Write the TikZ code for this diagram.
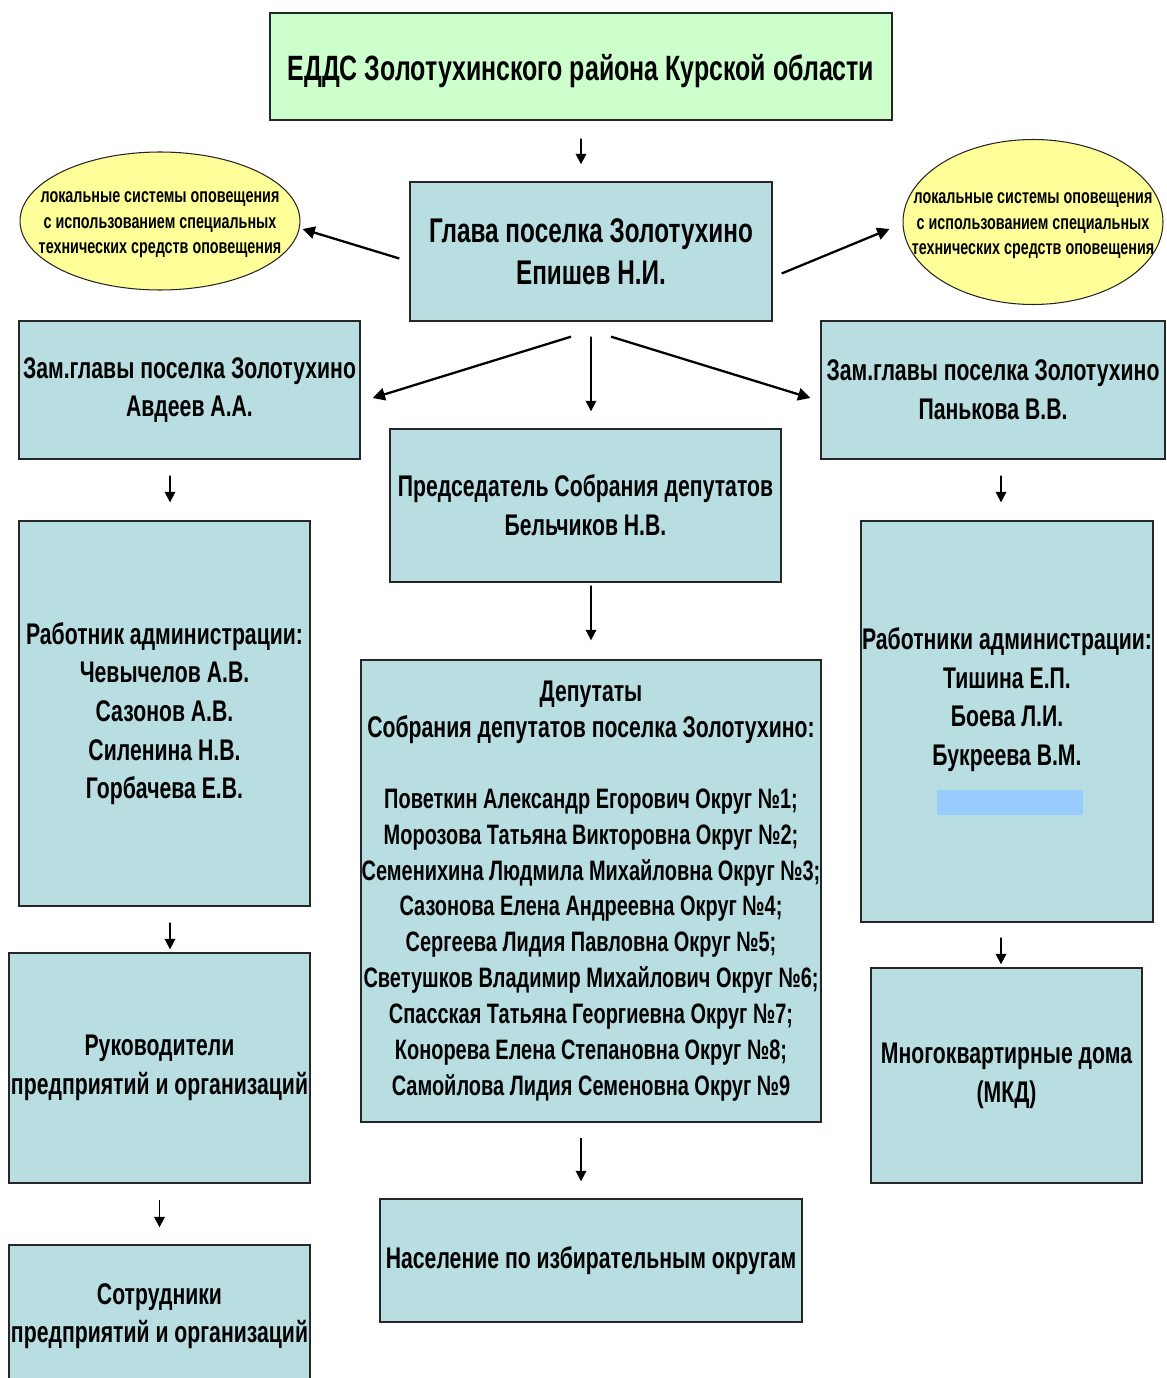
\documentclass[tikz,border=0pt]{standalone}
\usepackage{fontspec}
\setmainfont[FakeStretch=0.71]{Liberation Sans}
\usepackage{xcolor}
\usetikzlibrary{shapes.geometric,arrows.meta}

\definecolor{boxcol}{RGB}{184,222,226}
\definecolor{topcol}{RGB}{204,255,204}
\definecolor{ellcol}{RGB}{255,255,153}
\definecolor{hidecol}{RGB}{153,204,255}

\begin{document}
\begin{tikzpicture}[x=0.02cm, y=-0.02cm,
    box/.style={draw=black!85, line width=0.8pt, fill=boxcol, align=center,
                inner sep=0pt, font=\bfseries\fontsize{17}{22}\selectfont},
    ell/.style={draw=black!85, line width=0.6pt, fill=ellcol, ellipse, inner sep=0pt},
    elltext/.style={align=center, inner sep=0pt, font=\bfseries\fontsize{11.5}{14.5}\selectfont},
    arr/.style={-{Triangle[length=6pt,width=6pt]}, line width=1pt},
    darr/.style={-{Triangle[length=7pt,width=7pt]}, line width=1.3pt}]

    \useasboundingbox (0,0) rectangle (1166,1378);
    \fill[white] (0,0) rectangle (1166,1378);

    % ЕДДС
    \node[box, fill=topcol, minimum width=12.44cm, minimum height=2.14cm,
          text height=20pt, font=\bfseries\fontsize{20}{24}\selectfont] (top) at (581,66.5)
        {ЕДДС Золотухинского района Курской области};

    % Глава поселка
    \node[box, minimum width=7.24cm, minimum height=2.78cm,
          font=\bfseries\fontsize{19.5}{24}\selectfont] (glava) at (591,251.5)
        {Глава поселка Золотухино\\Епишев Н.И.};

    % local warning systems
    \node[ell, minimum width=5.6cm, minimum height=2.76cm] (ellL) at (160,221) {};
    \node[elltext] (ellLtext) at ([yshift=-0.08cm]ellL.center)
        {локальные системы оповещения\\с использованием специальных\\технических средств оповещения};
    \node[ell, minimum width=5.2cm, minimum height=3.3cm] (ellR) at (1033,222) {};
    \node[elltext] (ellRtext) at ([yshift=-0.08cm]ellR.center)
        {локальные системы оповещения\\с использованием специальных\\технических средств оповещения};

    % Заместители
    \node[box, minimum width=6.82cm, minimum height=2.76cm] (zamL) at (189.5,390)
        {Зам.главы поселка Золотухино\\Авдеев А.А.};
    \node[box, minimum width=6.88cm, minimum height=2.76cm] (zamR) at (993,390)
        {Зам.главы поселка Золотухино\\Панькова В.В.};

    % Председатель
    \node[box, minimum width=7.82cm, minimum height=3.06cm] (pred) at (585.5,505.5)
        {Председатель Собрания депутатов\\Бельчиков Н.В.};

    % Работники администрации
    \node[box, minimum width=5.82cm, minimum height=7.7cm] (workL) at (164.5,713.5)
        {Работник администрации:\\Чевычелов А.В.\\Сазонов А.В.\\Силенина Н.В.\\Горбачева Е.В.};
    \node[box, minimum width=5.84cm, minimum height=8.02cm] (workR) at (1007,721.5)
        {Работники администрации:\\Тишина Е.П.\\Боева Л.И.\\Букреева В.М.\\\strut};
    \node[fill=hidecol, inner sep=0pt, minimum width=2.92cm, minimum height=0.5cm]
        (hide) at (1010,802.5) {};

    % Депутаты
    \node[box, minimum width=9.2cm, minimum height=9.24cm,
          font=\bfseries\fontsize{16}{20.4}\selectfont] (deput) at (591,891)
        {\fontsize{17}{22}\selectfont Депутаты\\
         \fontsize{17}{22}\selectfont Собрания депутатов поселка Золотухино:\\[20pt]
         Поветкин Александр Егорович Округ №1;\\
         Морозова Татьяна Викторовна Округ №2;\\
         Семенихина Людмила Михайловна Округ №3;\\
         Сазонова Елена Андреевна Округ №4;\\
         Сергеева Лидия Павловна Округ №5;\\
         Светушков Владимир Михайлович Округ №6;\\
         Спасская Татьяна Георгиевна Округ №7;\\
         Конорева Елена Степановна Округ №8;\\
         Самойлова Лидия Семеновна Округ №9};

    % Руководители и сотрудники
    \node[box, minimum width=6.02cm, minimum height=4.6cm] (ruk) at (159.5,1068)
        {Руководители\\предприятий и организаций};
    \node[box, minimum width=6.02cm, minimum height=2.84cm] (sotr) at (159.5,1316)
        {Сотрудники\\предприятий и организаций};

    % МКД
    \node[box, minimum width=5.42cm, minimum height=4.3cm] (mkd) at (1006.5,1075.5)
        {Многоквартирные дома\\(МКД)};

    % Население
    \node[box, minimum width=8.44cm, minimum height=2.46cm] (nasel) at (591,1260.5)
        {Население по избирательным округам};

    % --------------------
    % Arrows
    % --------------------

    \draw[arr, shorten <=0.36cm, shorten >=0.34cm] (top.south) -- ([xshift=-0.2cm]glava.north);

    \draw[darr] ([shift={(-10,7)}]glava.west) -- ([shift={(2,8)}]ellL.east);
    \draw[darr] ([shift={(9,22)}]glava.east) -- ([shift={(-13,7)}]ellR.west);

    \draw[darr] ([shift={(-20,15)}]glava.south) -- ([shift={(12,8)}]zamL.east);
    \draw[arr] ([shift={(0,15)}]glava.south) -- ([shift={(5.5,-17)}]pred.north);
    \draw[darr] ([shift={(20,15)}]glava.south) -- ([shift={(-10,8)}]zamR.west);

    \draw[arr, shorten <=0.32cm, shorten >=0.36cm] ([xshift=-0.39cm]zamL.south) -- ([xshift=0.11cm]workL.north);
    \draw[arr, shorten <=0.32cm, shorten >=0.36cm] ([xshift=0.16cm]zamR.south) -- ([xshift=-0.12cm]workR.north);

    \draw[arr, shorten <=0.06cm, shorten >=0.38cm] ([xshift=0.11cm]pred.south) -- (deput.north);

    \draw[arr, shorten <=0.32cm, shorten >=0.06cm] ([xshift=0.11cm]workL.south) -- ([xshift=0.21cm]ruk.north);
    \draw[arr, shorten <=0.3cm, shorten >=0.06cm] ([xshift=-0.12cm]workR.south) -- ([xshift=-0.11cm]mkd.north);

    \draw[arr, shorten <=0.3cm, shorten >=0.34cm] ([xshift=-0.2cm]deput.south) -- ([xshift=-0.2cm]nasel.north);
    \draw[arr, shorten <=0.32cm, shorten >=0.34cm] (ruk.south) -- (sotr.north);

\end{tikzpicture}
\end{document}
